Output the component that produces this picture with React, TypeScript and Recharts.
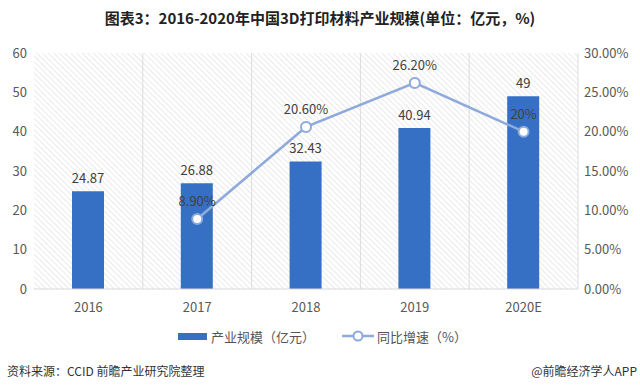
import React from 'react';
import { ComposedChart, Bar, Line, XAxis, YAxis, CartesianGrid, LabelList } from 'recharts';

const years = ['2016', '2017', '2018', '2019', '2020E'];
const scaleValues = [24.87, 26.88, 32.43, 40.94, 49];
const growthValues: (number | null)[] = [null, 8.9, 20.6, 26.2, 20];
const growthLabels = ['', '8.90%', '20.60%', '26.20%', '20%'];
const leftTicks = [0, 10, 20, 30, 40, 50, 60];
const rightTicks = [0, 5, 10, 15, 20, 25, 30];

const data = years.map((y, i) => ({
  year: y,
  scale: scaleValues[i],
  growth: growthValues[i],
  growthLabel: growthLabels[i],
}));

const FONT = '"Noto Sans CJK SC", "Noto Sans", sans-serif';
const BAR = '#3570C4';
const LINE = '#8EA9DB';

export default function App() {
  return (
    <div style={{ position: 'absolute', left: 0, top: 0, width: 640, height: 390, background: '#fff', fontFamily: FONT }}>
      <div style={{ position: 'absolute', left: 0, top: 7, width: 640, textAlign: 'center', fontSize: 15, fontWeight: 700, color: '#222', lineHeight: '22px' }}>
        图表3：2016-2020年中国3D打印材料产业规模(单位：亿元，%)
      </div>
      <div style={{ position: 'absolute', left: 0, top: 0 }}>
        <ComposedChart width={640} height={320} data={data} margin={{ top: 53, right: 0, bottom: 0, left: 0 }}>
          <defs>
            <pattern id="hatch" patternUnits="userSpaceOnUse" width="4" height="4" patternTransform="rotate(-45)">
              <rect width="4" height="4" fill="#ffffff" />
              <line x1="0" y1="0" x2="0" y2="4" stroke="#dadada" strokeWidth="1.1" />
            </pattern>
          </defs>
          <CartesianGrid
            horizontal={false}
            vertical
            fill="url(#hatch)"
            fillOpacity={1}
            stroke="#dcdcdc"
            verticalCoordinatesGenerator={({ offset }: any) =>
              [1, 2, 3, 4, 5].map((i) => offset.left + (i * offset.width) / years.length)
            }
          />
          <XAxis
            dataKey="year"
            tickLine={false}
            axisLine={{ stroke: '#d9d9d9' }}
            tick={{ fill: '#595959', fontSize: 13, fontFamily: FONT }}
            tickMargin={8}
            height={31}
          />
          <YAxis
            yAxisId="left"
            domain={[0, 60]}
            ticks={leftTicks}
            tickLine={false}
            axisLine={false}
            tickSize={0}
            tickMargin={7}
            width={34}
            tick={{ fill: '#595959', fontSize: 13, fontFamily: FONT }}
          />
          <YAxis
            yAxisId="right"
            orientation="right"
            domain={[0, 30]}
            ticks={rightTicks}
            tickLine={false}
            axisLine={false}
            tickSize={0}
            tickMargin={6}
            width={62}
            tickFormatter={(v: number) => v.toFixed(2) + '%'}
            tick={{ fill: '#595959', fontSize: 13, fontFamily: FONT, textAnchor: 'start' }}
          />
          <Bar yAxisId="left" dataKey="scale" fill={BAR} barSize={32} isAnimationActive={false}>
            <LabelList dataKey="scale" position="top" offset={8} fill="#404040" fontSize={13} fontFamily={FONT} />
          </Bar>
          <Line
            yAxisId="right"
            dataKey="growth"
            stroke={LINE}
            strokeWidth={2.5}
            dot={{ r: 5, fill: '#fff', stroke: LINE, strokeWidth: 2 }}
            activeDot={false}
            connectNulls={false}
            isAnimationActive={false}
          >
            <LabelList dataKey="growthLabel" position="top" offset={13} fill="#404040" fontSize={13} fontFamily={FONT} />
          </Line>
        </ComposedChart>
      </div>
      {/* legend */}
      <div style={{ position: 'absolute', left: 178, top: 326, height: 20, display: 'flex', alignItems: 'center', fontSize: 13, color: '#555' }}>
        <span style={{ display: 'inline-block', width: 29, height: 7, background: BAR, marginRight: 4 }} />
        <span>产业规模（亿元）</span>
        <svg width={32} height={14} style={{ marginLeft: 27, marginRight: 3 }}>
          <line x1={0} y1={7} x2={32} y2={7} stroke={LINE} strokeWidth={2.5} />
          <circle cx={16} cy={7} r={4.5} fill="#fff" stroke={LINE} strokeWidth={2} />
        </svg>
        <span>同比增速（%）</span>
      </div>
      <div style={{ position: 'absolute', left: 7, top: 362, fontSize: 12, color: '#333' }}>
        资料来源：CCID 前瞻产业研究院整理
      </div>
      <div style={{ position: 'absolute', right: 3, top: 362, fontSize: 12, color: '#333' }}>
        @前瞻经济学人APP
      </div>
    </div>
  );
}
